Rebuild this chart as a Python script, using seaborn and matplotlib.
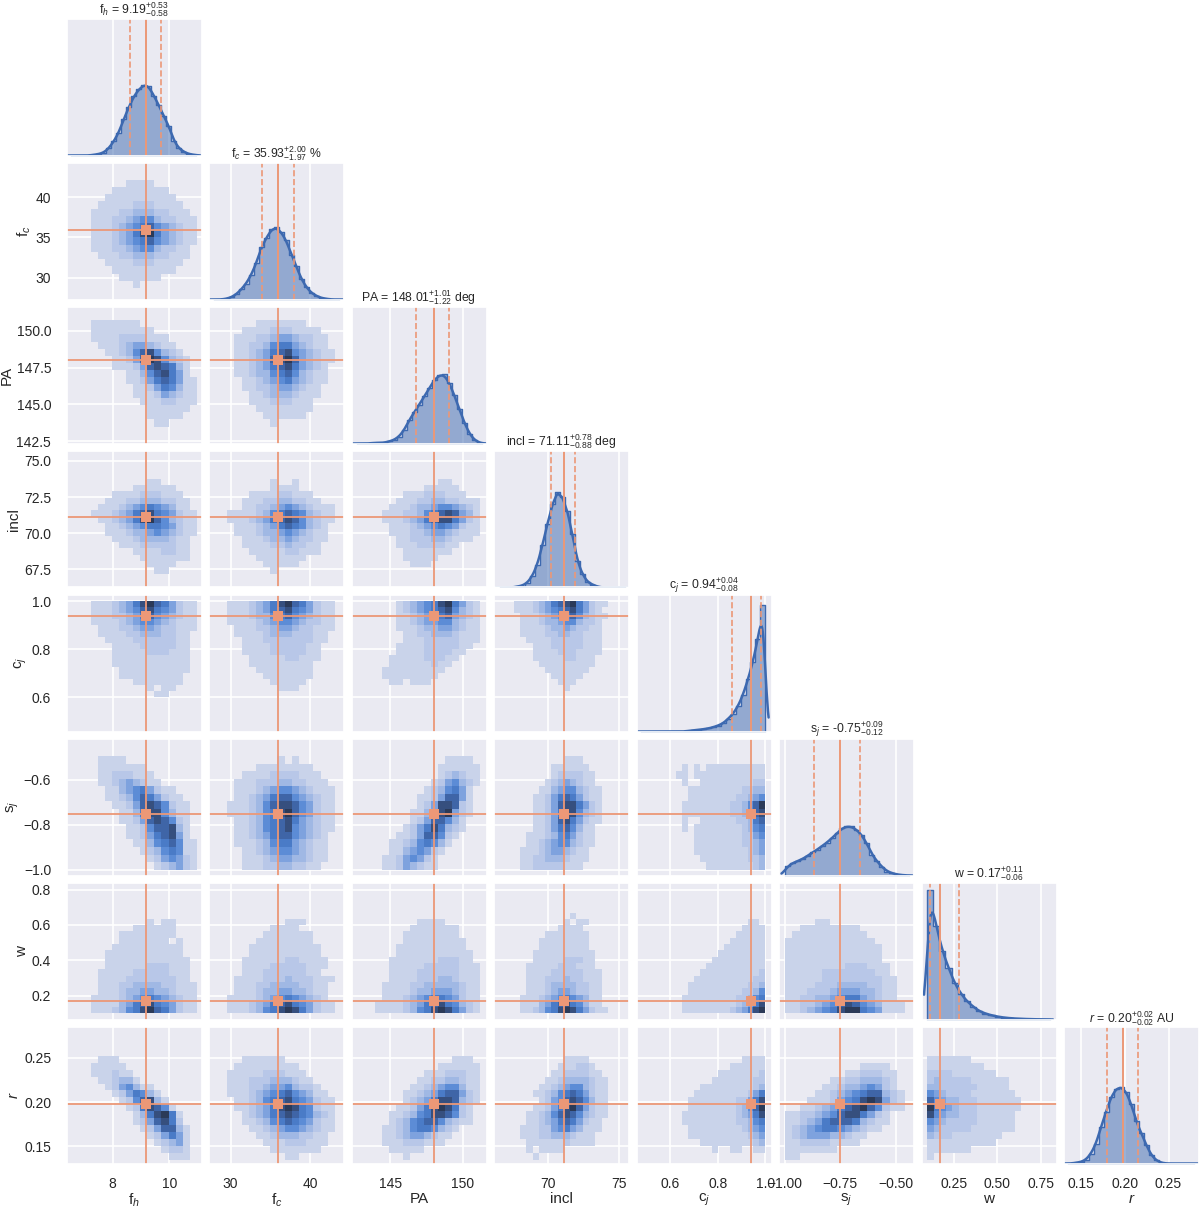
import numpy as np
import matplotlib
matplotlib.use("Agg")
import matplotlib.pyplot as plt
from matplotlib.colors import LinearSegmentedColormap
import seaborn as sns

names = ["fh", "fc", "PA", "incl", "cj", "sj", "w", "r"]
labels = [r"f$_h$", r"f$_c$", "PA", "incl", r"c$_j$", r"s$_j$", "w", r"$r$"]
titles = [
    r"f$_h$ = 9.19$^{+0.53}_{-0.58}$",
    r"f$_c$ = 35.93$^{+2.00}_{-1.97}$ %",
    r"PA = 148.01$^{+1.01}_{-1.22}$ deg",
    r"incl = 71.11$^{+0.78}_{-0.88}$ deg",
    r"c$_j$ = 0.94$^{+0.04}_{-0.08}$",
    r"s$_j$ = -0.75$^{+0.09}_{-0.12}$",
    r"w = 0.17$^{+0.11}_{-0.06}$",
    r"$r$ = 0.20$^{+0.02}_{-0.02}$ AU",
]
medians = [9.18, 35.93, 148.01, 71.11, 0.94, -0.75, 0.17, 0.1975]
q_low = [8.61, 33.96, 146.79, 70.23, 0.86, -0.87, 0.115, 0.18]
q_high = [9.72, 37.93, 149.02, 71.89, 0.98, -0.66, 0.28, 0.2146]
limits = [(6.38, 11.13), (27.3, 44.25), (142.35, 151.62), (66.25, 75.68),
          (0.457, 1.026), (-1.026, -0.418), (0.066, 0.837), (0.1306, 0.2848)]
xticks = [[8, 10], [30, 40], [145, 150], [70, 75], [0.6, 0.8, 1.0],
          [-1.0, -0.75, -0.5], [0.25, 0.5, 0.75], [0.15, 0.20, 0.25]]
yticks = [[], [30, 35, 40], [142.5, 145, 147.5, 150], [67.5, 70, 72.5, 75],
          [0.6, 0.8, 1.0], [-1.0, -0.8, -0.6], [0.2, 0.4, 0.6, 0.8], [0.15, 0.20, 0.25]]

# 1-D marginal histograms (relative heights)
hist_fh = [0, 0, 0, 0, 1, 2, 4, 10, 20, 32, 52, 68, 84, 93, 100, 98, 84, 71, 55, 42, 20, 10, 5, 2, 1]
hist_fc = [0, 0, 1, 3, 7, 14, 22, 34, 50, 72, 85, 97, 100, 93, 82, 62, 46, 28, 17, 9, 5, 2, 1, 0, 0]
hist_PA = [0, 0, 0, 1, 1, 1, 3, 5, 10, 19, 34, 45, 56, 68, 80, 92, 99, 100, 88, 70, 50, 30, 14, 5, 1]
hist_incl = [0, 0, 0, 1, 2, 5, 12, 24, 44, 66, 87, 100, 95, 80, 56, 28, 14, 6, 3, 1, 0, 0, 0, 0, 0]
hist_cj = [0, 0, 0, 0, 0, 0, 0, 0, 0, .5, .8, 1.3, 1.8, 2.4, 3.4, 4.7, 6.5, 10, 14, 20, 29, 41, 55, 73, 100]
hist_sj = [20, 25, 29, 33, 39, 47, 52, 60, 67, 76, 86, 97, 100, 100, 93, 83, 66, 42, 29, 18, 8, 5, 2, 1, 0]
hist_w = [100, 72, 53, 40, 28, 20, 14, 10, 6.4, 4.6, 3.2, 2.2, 1.5, 1, .7, .5, .3, .2, .1, .05]
hist_r = [0, 1, 2, 5, 13, 26, 48, 68, 87, 98, 100, 94, 78, 55, 40, 24, 11, 4, 1, 0, 0, 0, 0, 0, 0]
hist_range = [(6.55, 10.95), (27.9, 43.6), (142.7, 151.3), (66.65, 75.4),
              (0.478, 1.0), (-1.0, -0.44), (0.097, 0.80), (0.1357, 0.279)]
hist_peak_frac = [0.52, 0.53, 0.507, 0.70, 0.93, 0.36, 0.95, 0.56]
kde_adjust = [0.33, 0.33, 0.33, 0.33, 0.3, 0.3, 0.3, 0.33]
hists = [hist_fh, hist_fc, hist_PA, hist_incl, hist_cj, hist_sj, hist_w, hist_r]

# Ranges covered by the coarse 2-D count grids below
grid_range = [(7.0, 10.96), (28.7, 43.1), (143.5, 151.2), (67.2, 74.2),
              (0.60, 1.0), (-1.0, -0.46), (0.10, 0.67), (0.135, 0.26)]

# 2-D density levels, 0 = empty, 9 = darkest; top row first
g_fc_fh = """0000000000000000 0000001111000000 0000111111110000 0001111111111000
0011111222111100 0111122333221110 0111223455322111 0111234567543211
0111234689643211 0111234567543211 0111223455322110 0011122333221110
0001111222111100 0000111111111000 0000011111100000 0000000100000000"""
g_PA_fh = """0000000000000000 0111111100000000 0111111111000000 0111122221110000
0011123443211000 0001123578532100 0000112479853210 0000111247876310
0000001135786410 0000001124676411 0000000112465311 0000000111243211
0000000011122111 0000000001111110 0000000001111100 0000000000110000"""
g_PA_fc = """0000000000000000 0000011111110000 0001111222111100 0011122344322110
0011223566432110 0011234678543211 0011234789743211 0011234678643210
0011233567532110 0001123456432110 0001122344321100 0000112333211100
0000111222111000 0000011111111000 0000001111110000 0000000100000000"""
g_incl_fh = """0000000000000000 0000000001100000 0000000111111000 0000111122211100
0001112233322110 0011123456543110 0111234678654211 0011234689753211
0001123456654211 0001112334543211 0000111233332110 0000011122222110
0000000111122110 0000000011111110 0000000001111000 0000000000110000"""
g_incl_fc = """0000000000000000 0000000100100000 0000000111100000 0000111122111000
0001112233221100 0001122345432111 0111123567653211 0111234678753211
0011123467653210 0011123345432110 0001112334322110 0001111223221100
0000111112211100 0000011111110000 0000001111100000 0000000100000000"""
g_incl_PA = """0000000000000000 0000000000110000 0000000011111000 0000011122211100
0000111223322111 0001112334554321 0011122356787431 0011123467886421
0001112345654211 0001112234432111 0000112223321110 0000111222211000
0000011111110000 0000011111000000 0000001110000000 0000000000000000"""
g_cj_fh = """0111234689764211 0111234578654211 0111223467543211 0111123455432111
0011122344322111 0011112233322110 0001111222222110 0000111122222110
0000111112221110 0000111111111110 0000111111111110 0000011111111110
0000011111111100 0000000111111100 0000000001011000 0000000000110000"""
g_cj_fc = """0111234689764211 0111234678654211 0111233567543211 0111123455432211
0011122344322111 0011112333222110 0001112222222110 0001111222221100
0001111222221100 0000111112211100 0000111111111000 0000011111111000
0000001111111000 0000000111110000 0000000011100000 0000000000000000"""
g_cj_PA = """0000123456896421 0000123456785321 0000112345674321 0000112344553211
0000111233443211 0000011223332111 0000011122222111 0000111122222110
0000111122221100 0001111122211000 0001111112110000 0011111111100000
0011111111000000 0001101110000000 0000000000000000 0000000000000000"""
g_cj_incl = """0111234678964211 0111234567864210 0011123456753211 0011123345532210
0011112334322110 0011112233221110 0001111222221110 0000111222221110
0000111122211110 0000111112211100 0000011111111100 0000001111111000
0000000111110000 0000000011100000 0000000001000000 0000000000000000"""
g_sj_fh = """0000000000000000 0011110000000000 0011111110000000 0011222111000000
0011234321100000 0001134564211000 0001123576421100 0000112478752110
0000011368853110 0000011247875210 0000001125778310 0000001124678410
0000000113567511 0000000012356511 0000000001245421 0000000000123421"""
g_sj_fc = """0000000000000000 0000000010100000 0000011111111000 0001111222211100
0011122233221110 0011123455432111 0011234677543211 0111235788754211
0111235689754211 0011235678643211 0011235678543211 0011234677543210
0011123566432110 0001123455432110 0001112344332110 0001112233221100"""
g_sj_PA = """0000000000000000 0000000000011110 0000000000111111 0000000000123211
0000000001245321 0000000012356410 0000000112477410 0000000124887210
0000001136894210 0000001247753100 0000012468632100 0000112477521000
0001123565310000 0001134542100000 0011245421000000 0011243211000000"""
g_sj_incl = """0000000000000000 0000000001110000 0000000111111000 0000000122221100
0000001234321100 0000011345532110 0000112467642110 0000112478864210
0000112468853210 0000112478642110 0000112467531100 0001112356421100
0001123455321100 0011123443211000 0011223332111000 0011222221110000"""
g_sj_cj = """0000000000000000 0000000000000000 0010101111111111 0110111111111111
0010011111111122 0001111111112233 0001111111122345 0011111111223579
0011111111223478 0010011111122367 0010111111112356 0000111111112245
0000111111112234 0000111111111234 0000011111111223 0000001111111123"""
g_w_fh = """0000000000000000 0000000001011000 0000000111111000 0000011111111000
0000011111110100 0000111111111100 0001111111111100 0001111111111110
0001111112221110 0011111222221110 0011112222222110 0011122333322111
0011123344332111 0111123456543211 0111134678654211 0111235689764211"""
g_w_fc = """0000000000000000 0000000001110000 0000000111100000 0000001111111000
0000011111111000 0000111111111100 0000111111111100 0001111112211110
0001111222221110 0001112222221100 0011112223222111 0011122333322110
0011123344332110 0111123456543210 0111234678654211 0111235689864211"""
g_w_PA = """0000000000000000 0000000111100000 0000001111111000 0000011111111000
0000011111111100 0000111111111100 0000111111111110 0001111111222110
0001111122222111 0001111222222111 0001111222332111 0011112233333211
0011112334443211 0011123456654211 0111123467865321 0111123568986421"""
g_w_incl = """0000000000100000 0000000001011000 0000000011110000 0000001111111000
0000011111111000 0000011111111000 0000111111111100 0000111112221100
0001111122211100 0001111222221110 0001112223221110 0001112333322110
0001112344322110 0011123456543110 0011134678653110 0011235689864211"""
g_w_cj = """0000000000000000 0000000000000110 0000000000001111 0000000000011111
0000000000111111 0000000001111111 0000000011111111 0000000111111111
0000001111111111 0000011111111112 0000111111111122 0001111111111223
0001111111112235 0011111111122356 0011111111123468 0011111111234689"""
g_w_sj = """0000000000000000 0000110000000000 0011111111000000 0111111111100000
1111111111110000 1111111111111000 1111111111111000 1111111111111000
1111111122211100 1111122222221100 1111122222222110 1111222333322110
1112223444332110 1122334566432110 1122345787543111 1123456899654111"""
g_r_fh = """0000000000000000 0011100000000000 0111110000000000 0111211000000000
0011233100000000 0001245311000000 0000124653100000 0000012578310000
0000001268751000 0000000136896100 0000000124786200 0000000012477310
0000000001246410 0000000000123410 0000000000012210 0000000000001110"""
g_r_fc = """0000000000000000 0001111110000000 0011111111100000 0111112221110000
0111222333211000 0111223445322100 0111234567543110 0011235678654211
0011234689865211 0001234678765321 0001123567654211 0000112345543211
0000011233322110 0000001112221110 0000000111111100 0000000001100000"""
g_r_PA = """0000000000000000 0000000000001110 0000000000111111 0000000011122211
0000000112233211 0000001123455311 0000011234677421 0000012346887321
0000112468986210 0001123568875210 0001235677532110 0011235665321000
0011234432110000 0011122211100000 0001111100000000 0000010000000000"""
g_r_incl = """0000000000000000 0000000001111000 0000000011122100 0000000112222110
0000001123333211 0000011234553211 0000112356764211 0000012457875311
0000112468974211 0001123578753211 0001123467642110 0011122456431110
0011122333211100 0001111112111100 0001011110000000 0000100000000000"""
g_r_cj = """0000000000000000 0000000000001111 0000000000111111 0000000011111112
0000000111111122 0000011111111123 0000111111111246 0001111111122468
0001111111123579 0011111111123468 0011111111122356 0001111111112345
0001111111111234 0000011111111123 0000000100110011 0000000000000000"""
g_r_sj = """0000000000000000 0000000000000000 0000000000111100 0000000011222110
0000001122333210 0000011233454210 0000112345677321 0001112456898421
0011234678975211 1122345788642100 1123467776321100 1234566543211000
1234443321100000 1122221111000000 1111111000000000 1100000000000000"""
g_r_w = """0000000000000000 1111111000000000 1111111110000000 2222111111100000
2322222111111000 3322222211111000 5432222111111100 7543322211111110
9654322211111110 8543322211111100 5432222211111100 4322222111111100
3222111111110000 1111111111100000 1111111000000000 1000000000000000"""

grids = {
    (1, 0): g_fc_fh,
    (2, 0): g_PA_fh, (2, 1): g_PA_fc,
    (3, 0): g_incl_fh, (3, 1): g_incl_fc, (3, 2): g_incl_PA,
    (4, 0): g_cj_fh, (4, 1): g_cj_fc, (4, 2): g_cj_PA, (4, 3): g_cj_incl,
    (5, 0): g_sj_fh, (5, 1): g_sj_fc, (5, 2): g_sj_PA, (5, 3): g_sj_incl, (5, 4): g_sj_cj,
    (6, 0): g_w_fh, (6, 1): g_w_fc, (6, 2): g_w_PA, (6, 3): g_w_incl, (6, 4): g_w_cj, (6, 5): g_w_sj,
    (7, 0): g_r_fh, (7, 1): g_r_fc, (7, 2): g_r_PA, (7, 3): g_r_incl, (7, 4): g_r_cj, (7, 5): g_r_sj, (7, 6): g_r_w,
}

sns.set_theme(style="darkgrid")
plt.rcParams["font.family"] = ["Liberation Sans", "DejaVu Sans"]
plt.rcParams["mathtext.fontset"] = "custom"
plt.rcParams["mathtext.rm"] = "Liberation Sans"
plt.rcParams["mathtext.it"] = "Liberation Sans:italic"
plt.rcParams["mathtext.bf"] = "Liberation Sans:bold"

W, H = 1200, 1208
fig = plt.figure(figsize=(W / 100, H / 100), dpi=100)
LEFTS = [66.5, 209, 351.5, 494, 636.5, 779, 921.5, 1064]
TOPS = [19, 163, 307, 451, 595, 739, 883, 1027]
AW, AH = 135, 136.5
ORANGE = "#EC9877"
BLUE = "#3D69B0"
cmap = LinearSegmentedColormap.from_list(
    "dens", ["#c9d3ea", "#b8c7e8", "#a0b8e4", "#7ea2de", "#5c8cd6", "#4a7bc8", "#3f66a8", "#36507f", "#2b3a58"])

def edges(rng, n):
    return np.linspace(rng[0], rng[1], n + 1)

for i in range(8):
    for j in range(i + 1):
        ax = fig.add_axes([LEFTS[j] / W, 1 - (TOPS[i] + AH) / H, AW / W, AH / H])
        if i == j:
            h = np.array(hists[i], dtype=float)
            e = edges(hist_range[i], len(h))
            c = 0.5 * (e[:-1] + e[1:])
            sns.histplot(x=c, weights=h, bins=len(h), binrange=hist_range[i], element="step", kde=True,
                         color=BLUE, alpha=0.5, linewidth=1.0,
                         kde_kws={"bw_adjust": kde_adjust[i], "cut": 1}, line_kws={"lw": 1.8}, ax=ax)
            ax.set_ylim(0, h.max() / hist_peak_frac[i])
            ax.axvline(medians[i], color=ORANGE, lw=1.4)
            ax.axvline(q_low[i], color=ORANGE, lw=1.2, ls="--")
            ax.axvline(q_high[i], color=ORANGE, lw=1.2, ls="--")
            ax.set_yticks([])
            ax.set_title(titles[i], fontsize=8.8, pad=3, color=".15")
        else:
            rows = [r.ljust(16, "0")[:16] for r in grids[(i, j)].split()]
            vals = np.array([[int(ch) for ch in r] for r in rows[::-1]], dtype=float)
            xe = edges(grid_range[j], vals.shape[1])
            ye = edges(grid_range[i], vals.shape[0])
            xc = 0.5 * (xe[:-1] + xe[1:])
            yc = 0.5 * (ye[:-1] + ye[1:])
            X, Y = np.meshgrid(xc, yc)
            sns.histplot(x=X.ravel(), y=Y.ravel(), weights=vals.ravel(), bins=[xe, ye], cmap=cmap,
                         vmin=1, vmax=9, ax=ax)
            ax.axvline(medians[j], color=ORANGE, lw=1.3)
            ax.axhline(medians[i], color=ORANGE, lw=1.3)
            ax.plot([medians[j]], [medians[i]], marker="s", ms=6.5, color=ORANGE, mew=0)
            ax.set_ylim(limits[i])
            ax.set_yticks(yticks[i])
        ax.set_xlim(limits[j])
        ax.set_xticks(xticks[j])
        ax.set_xlabel("")
        ax.set_ylabel("")
        ax.tick_params(axis="x", labelbottom=(i == 7), labelsize=10, pad=4)
        ax.tick_params(axis="y", labelleft=(j == 0 and i > 0), labelsize=10, pad=5)
        ax.grid(True, color="white", lw=1.2)
        ax.set_axisbelow(True)
        if i == 7:
            ax.set_xlabel(labels[j], fontsize=11, labelpad=0.5)
        if j == 0 and i > 0:
            ax.set_ylabel(labels[i], fontsize=11, labelpad=2)

fig.savefig("out.png", dpi=100)
